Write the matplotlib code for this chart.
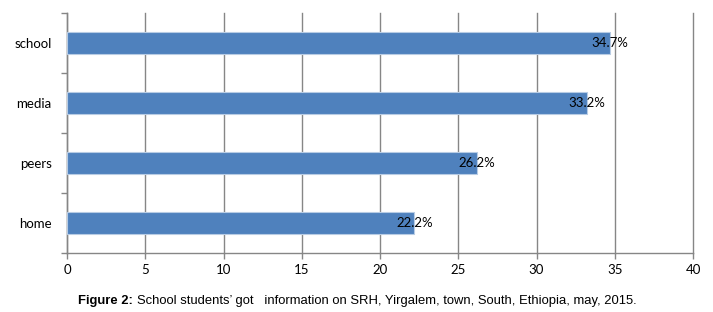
import matplotlib.pyplot as plt

categories = ['home', 'peers', 'media', 'school']
values = [22.2, 26.2, 33.2, 34.7]
labels = ['22.2%', '26.2%', '33.2%', '34.7%']
xticks = [0, 5, 10, 15, 20, 25, 30, 35, 40]

fig = plt.figure(figsize=(7.13, 3.12), dpi=100)
ax = fig.add_axes([0.094, 0.189, 0.878, 0.769])

pos = list(range(len(categories)))
ax.barh(pos, values, height=0.38, color='#4F81BD', edgecolor='#B8CCE4',
        linewidth=0.8, zorder=3)
for p, v, t in zip(pos, values, labels):
    ax.text(v, p, t, ha='center', va='center', fontsize=9.5,
            family='Lato', color='black', zorder=4)

ax.set_xlim(0, 40)
ax.set_ylim(-0.5, 3.5)
ax.set_xticks(xticks)
ax.set_yticks(pos)
ax.set_yticklabels(categories)
ax.set_yticks([-0.5, 0.5, 1.5, 2.5, 3.5], minor=True)
ax.tick_params(axis='y', which='major', length=0, pad=11, labelsize=9.5)
ax.tick_params(axis='y', which='minor', length=4, color='#868686', width=1)
ax.tick_params(axis='x', length=4, color='#868686', width=1, labelsize=9.5, pad=4)
for lab in ax.get_xticklabels() + ax.get_yticklabels():
    lab.set_family('Lato')

ax.grid(axis='x', color='#868686', linewidth=1, zorder=0)
for line in ax.get_xgridlines():
    line.set_clip_on(False)
for s in ['top', 'right']:
    ax.spines[s].set_visible(False)
for s in ['left', 'bottom']:
    ax.spines[s].set_color('#868686')
    ax.spines[s].set_linewidth(1)

cap_y = 0.015
t1 = fig.text(0.109, cap_y, 'Figure 2:', family='Liberation Sans',
              fontweight='bold', fontsize=9.4, va='bottom', ha='left')
fig.canvas.draw()
bb = t1.get_window_extent()
x1 = bb.x1 / fig.bbox.width
fig.text(x1 + 0.006, cap_y,
         "School students\u2019 got   information on SRH, Yirgalem, town, South, Ethiopia, may, 2015.",
         family='Liberation Sans', fontsize=9.4, va='bottom', ha='left')

fig.savefig('out.png', dpi=100)
